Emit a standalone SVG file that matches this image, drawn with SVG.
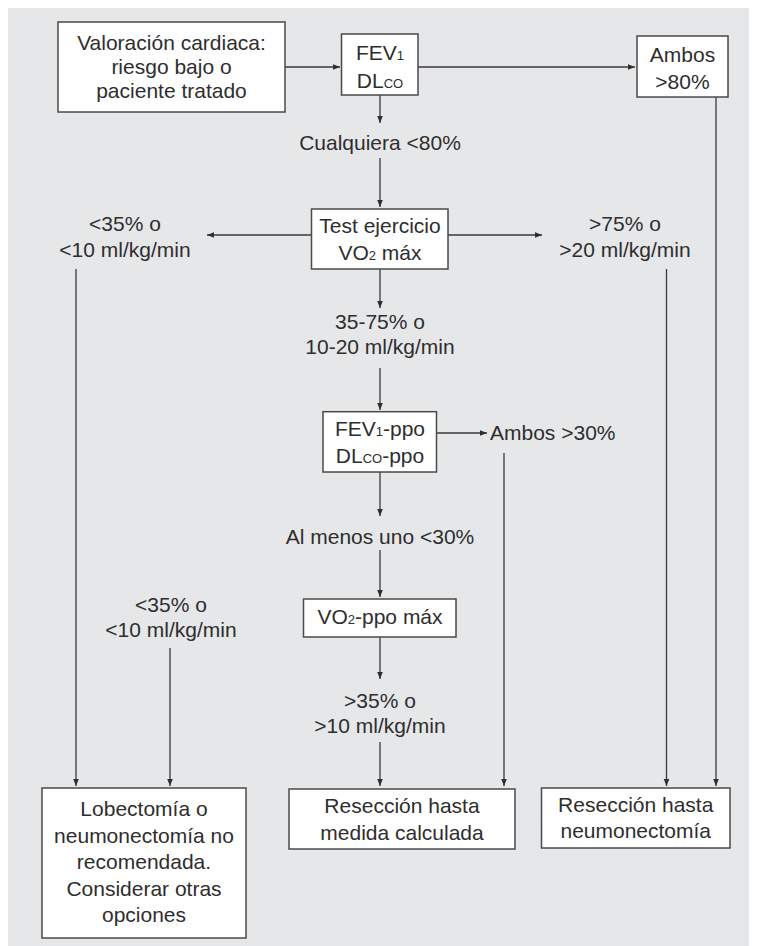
<svg xmlns="http://www.w3.org/2000/svg" width="757" height="946" viewBox="0 0 757 946">
<defs>
<marker id="ah" viewBox="0 0 10 10" refX="10" refY="5" markerWidth="7" markerHeight="7" markerUnits="userSpaceOnUse" orient="auto">
<path d="M0,1 L10,5 L0,9 z" fill="#2e2e2e"/>
</marker>
<style>
.bx{fill:#ffffff;stroke:#4a4a4a;stroke-width:1.5}
.t{font-family:"Liberation Sans",Arial,sans-serif;font-size:21px;fill:#2e2e2e;text-anchor:middle}
.tl{font-family:"Liberation Sans",Arial,sans-serif;font-size:21px;fill:#2e2e2e;text-anchor:start}
.sm{font-size:13px}
.c{stroke:#3a3a3a;stroke-width:1.3;fill:none}
.ca{stroke:#3a3a3a;stroke-width:1.3;fill:none;marker-end:url(#ah)}
</style>
</defs>
<rect x="8" y="8" width="741" height="938" fill="#e6e7e9"/>

<g id="connectors">
<line class="ca" x1="285" y1="67" x2="340" y2="67"/>
<line class="ca" x1="418" y1="67" x2="635" y2="67"/>
<line class="ca" x1="380" y1="95" x2="380" y2="123"/>
<line class="ca" x1="380" y1="158" x2="380" y2="207"/>
<line class="ca" x1="311.5" y1="235" x2="207" y2="235"/>
<line class="ca" x1="448" y1="235" x2="542" y2="235"/>
<line class="ca" x1="380" y1="269" x2="380" y2="308"/>
<line class="ca" x1="380" y1="368" x2="380" y2="410"/>
<line class="ca" x1="436.5" y1="433" x2="487" y2="433"/>
<line class="ca" x1="380" y1="472" x2="380" y2="516"/>
<line class="ca" x1="380" y1="550" x2="380" y2="597"/>
<line class="ca" x1="380" y1="637" x2="380" y2="679"/>
<line class="ca" x1="380" y1="742" x2="380" y2="786"/>
<line class="ca" x1="76" y1="269" x2="76" y2="786"/>
<line class="ca" x1="170" y1="648" x2="170" y2="786"/>
<line class="ca" x1="504" y1="453" x2="504" y2="786"/>
<line class="ca" x1="666.5" y1="269" x2="666.5" y2="786"/>
<line class="ca" x1="716" y1="97" x2="716" y2="786"/>
</g>

<g id="valoracion">
<rect class="bx" x="58" y="22" width="227" height="90"/>
<text class="t" x="171.5" y="50">Valoración cardiaca:</text>
<text class="t" x="171.5" y="74">riesgo bajo o</text>
<text class="t" x="171.5" y="98">paciente tratado</text>
</g>

<g id="fev-dlco">
<rect class="bx" x="341.5" y="34" width="76.5" height="61"/>
<text class="t" x="380" y="60">FEV<tspan class="sm">1</tspan></text>
<text class="t" x="380" y="88">DL<tspan class="sm">CO</tspan></text>
</g>

<g id="ambos80">
<rect class="bx" x="637" y="36" width="91" height="61"/>
<text class="t" x="682.5" y="62">Ambos</text>
<text class="t" x="682.5" y="89">&gt;80%</text>
</g>

<g id="cualquiera">
<text class="t" x="380" y="150">Cualquiera &lt;80%</text>
</g>

<g id="test-ejercicio">
<rect class="bx" x="311.5" y="209" width="136.5" height="60"/>
<text class="t" x="380" y="233">Test ejercicio</text>
<text class="t" x="380" y="260">VO<tspan class="sm">2</tspan> máx</text>
</g>

<g id="lt35-a">
<text class="t" x="125" y="231">&lt;35% o</text>
<text class="t" x="125" y="257">&lt;10 ml/kg/min</text>
</g>

<g id="gt75">
<text class="t" x="625" y="231">&gt;75% o</text>
<text class="t" x="625" y="257">&gt;20 ml/kg/min</text>
</g>

<g id="range35-75">
<text class="t" x="380" y="329">35-75% o</text>
<text class="t" x="380" y="354">10-20 ml/kg/min</text>
</g>

<g id="fev-ppo">
<rect class="bx" x="323" y="411.7" width="113.5" height="60.3"/>
<text class="t" x="380" y="436">FEV<tspan class="sm">1</tspan>-ppo</text>
<text class="t" x="380" y="463">DL<tspan class="sm">CO</tspan>-ppo</text>
</g>

<g id="ambos30">
<text class="tl" x="490" y="440">Ambos &gt;30%</text>
</g>

<g id="almenos">
<text class="t" x="380" y="544">Al menos uno &lt;30%</text>
</g>

<g id="vo2-ppo">
<rect class="bx" x="303.5" y="599" width="152.5" height="38"/>
<text class="t" x="380" y="624">VO<tspan class="sm">2</tspan>-ppo máx</text>
</g>

<g id="lt35-b">
<text class="t" x="171" y="612">&lt;35% o</text>
<text class="t" x="171" y="637">&lt;10 ml/kg/min</text>
</g>

<g id="gt35">
<text class="t" x="380" y="708">&gt;35% o</text>
<text class="t" x="380" y="733">&gt;10 ml/kg/min</text>
</g>

<g id="lobectomia">
<rect class="bx" x="42" y="788" width="204" height="150"/>
<text class="t" x="144" y="816">Lobectomía o</text>
<text class="t" x="144" y="842.5">neumonectomía no</text>
<text class="t" x="144" y="869">recomendada.</text>
<text class="t" x="144" y="895.5">Considerar otras</text>
<text class="t" x="144" y="922">opciones</text>
</g>

<g id="reseccion-medida">
<rect class="bx" x="289" y="789" width="226" height="60"/>
<text class="t" x="402" y="813">Resección hasta</text>
<text class="t" x="402" y="840">medida calculada</text>
</g>

<g id="reseccion-neumo">
<rect class="bx" x="541.5" y="788" width="188.5" height="60"/>
<text class="t" x="635.75" y="812">Resección hasta</text>
<text class="t" x="635.75" y="838">neumonectomía</text>
</g>
</svg>
